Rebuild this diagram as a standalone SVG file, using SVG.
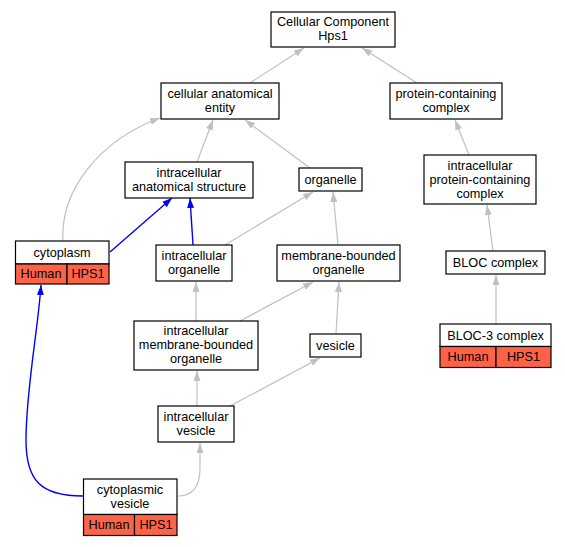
<svg xmlns="http://www.w3.org/2000/svg" width="565" height="547" viewBox="0 0 565 547">
<style>
text{font-family:"Liberation Sans",Arial,sans-serif;font-size:12.7px;fill:#000;text-anchor:middle}
.box{fill:#fff;stroke:#000;stroke-width:1.2}
.red{fill:#ff6347;stroke:#000;stroke-width:1.2}
.e{fill:none;stroke:#c0c0c0;stroke-width:1.2}
.b{fill:none;stroke:#0000ff;stroke-width:1.4}
</style>
<defs>
<marker id="ag" viewBox="0 0 10 7" refX="10" refY="3.5" markerWidth="10" markerHeight="7" markerUnits="userSpaceOnUse" orient="auto"><path d="M0,0 L10,3.5 L0,7 z" fill="#c0c0c0"/></marker>
<marker id="ab" viewBox="0 0 10 7" refX="10" refY="3.5" markerWidth="10" markerHeight="7" markerUnits="userSpaceOnUse" orient="auto"><path d="M0,0 L10,3.5 L0,7 z" fill="#0000ff"/></marker>
</defs>
<rect width="565" height="547" fill="#fff"/>
<g id="connectors">
<path class="e" marker-end="url(#ag)" d="M250,83 L304,48"/>
<path class="e" marker-end="url(#ag)" d="M417,83 L362,48"/>
<path class="e" marker-end="url(#ag)" d="M197,162 L213,120"/>
<path class="e" marker-end="url(#ag)" d="M310,168 L245,120"/>
<path class="e" marker-end="url(#ag)" d="M63,241 C60,190 100,140 160,118"/>
<path class="b" marker-end="url(#ab)" d="M110,252 L172,198"/>
<path class="b" marker-end="url(#ab)" d="M193,245 L190,198"/>
<path class="e" marker-end="url(#ag)" d="M225,245 L313,192"/>
<path class="e" marker-end="url(#ag)" d="M338,245 L333,192"/>
<path class="e" marker-end="url(#ag)" d="M469,155 L455,120"/>
<path class="e" marker-end="url(#ag)" d="M493,251 L487,205"/>
<path class="e" marker-end="url(#ag)" d="M496,324 L496,275"/>
<path class="e" marker-end="url(#ag)" d="M196,321 L196,282"/>
<path class="e" marker-end="url(#ag)" d="M240,321 L313,282"/>
<path class="e" marker-end="url(#ag)" d="M336,334 L339,282"/>
<path class="e" marker-end="url(#ag)" d="M197,406 L197,371"/>
<path class="e" marker-end="url(#ag)" d="M230,406 L320,358"/>
<path class="e" marker-end="url(#ag)" d="M178,496 C195,496 200,484 200,468 L200,443"/>
<path class="b" marker-end="url(#ab)" d="M83,496 C40,496 26,480 26,440 C26,390 38,330 41,285"/>
</g>
<g id="n_cc"><rect class="box" x="271" y="12" width="124" height="35"/><text x="333" y="26">Cellular Component</text><text x="333" y="40">Hps1</text></g>
<g id="n_cae"><rect class="box" x="161" y="83" width="118" height="36"/><text x="220" y="98">cellular anatomical</text><text x="220" y="112">entity</text></g>
<g id="n_pcc"><rect class="box" x="390" y="83" width="112" height="36"/><text x="446" y="98">protein-containing</text><text x="446" y="112">complex</text></g>
<g id="n_ias"><rect class="box" x="125" y="162" width="128" height="36"/><text x="189" y="177">intracellular</text><text x="189" y="191">anatomical structure</text></g>
<g id="n_org"><rect class="box" x="299" y="168" width="63" height="23"/><text x="330.5" y="184">organelle</text></g>
<g id="n_ipcc"><rect class="box" x="424" y="155" width="112" height="49"/><text x="480" y="170">intracellular</text><text x="480" y="184">protein-containing</text><text x="480" y="198">complex</text></g>
<g id="n_cyto"><rect class="box" x="15.5" y="241" width="93.5" height="23"/><rect class="red" x="15.5" y="264" width="51.5" height="20"/><rect class="red" x="67" y="264" width="42" height="20"/><text x="62" y="257">cytoplasm</text><text x="41" y="278">Human</text><text x="88" y="278">HPS1</text></g>
<g id="n_io"><rect class="box" x="156" y="245" width="76" height="36"/><text x="194" y="260">intracellular</text><text x="194" y="274">organelle</text></g>
<g id="n_mbo"><rect class="box" x="277" y="245" width="123" height="36"/><text x="338.5" y="260">membrane-bounded</text><text x="338.5" y="274">organelle</text></g>
<g id="n_bloc"><rect class="box" x="446" y="251" width="99" height="23"/><text x="495.5" y="267">BLOC complex</text></g>
<g id="n_bloc3"><rect class="box" x="440" y="324" width="111" height="22.5"/><rect class="red" x="440" y="346.5" width="56" height="21"/><rect class="red" x="496" y="346.5" width="55" height="21"/><text x="495.5" y="340">BLOC-3 complex</text><text x="468" y="361">Human</text><text x="523.5" y="361">HPS1</text></g>
<g id="n_imbo"><rect class="box" x="134" y="321" width="124" height="49"/><text x="196" y="335">intracellular</text><text x="196" y="349">membrane-bounded</text><text x="196" y="363">organelle</text></g>
<g id="n_ves"><rect class="box" x="310" y="334" width="51" height="23"/><text x="335.5" y="350">vesicle</text></g>
<g id="n_iv"><rect class="box" x="158" y="406" width="76" height="36"/><text x="196" y="421">intracellular</text><text x="196" y="435">vesicle</text></g>
<g id="n_cv"><rect class="box" x="83.5" y="479" width="93.5" height="35.5"/><rect class="red" x="83.5" y="514.5" width="51" height="21"/><rect class="red" x="134.5" y="514.5" width="42.5" height="21"/><text x="130" y="494">cytoplasmic</text><text x="130" y="508">vesicle</text><text x="109" y="529">Human</text><text x="156" y="529">HPS1</text></g>
</svg>
